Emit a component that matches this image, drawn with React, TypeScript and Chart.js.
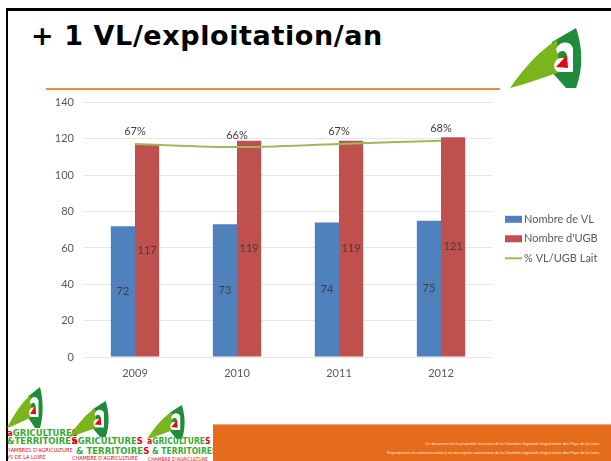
import React, { useEffect, useRef } from "react";
import { Chart, registerables } from "chart.js";

Chart.register(...registerables);

const years = ["2009", "2010", "2011", "2012"];
const nombreVL = [72, 73, 74, 75];
const nombreUGB = [117, 119, 119, 121];
const pctVLUGB = [67, 66, 67, 68];
const seriesNames = ["Nombre de VL", "Nombre d'UGB", "% VL/UGB Lait"];
const yMin = 0;
const yMax = 140;
const yStep = 20;

const FONT = "Lato, 'Open Sans', sans-serif";
const BLUE = "#4F81BD";
const RED = "#C0504D";
const GREEN = "#9BBB59";

const valueLabels = {
  id: "valueLabels",
  afterDatasetsDraw(chart: any) {
    const ctx = chart.ctx;
    ctx.save();
    ctx.font = `11px ${FONT}`;
    ctx.fillStyle = "#404040";
    ctx.textAlign = "center";
    ctx.textBaseline = "middle";
    chart.data.datasets.forEach((ds: any, i: number) => {
      const meta = chart.getDatasetMeta(i);
      meta.data.forEach((el: any, j: number) => {
        const v = ds.data[j];
        if (meta.type === "bar") {
          const p = el.getProps(["x", "y", "base"], true);
          ctx.fillText(String(v), p.x, (p.y + p.base) / 2);
        } else {
          ctx.fillText(v + "%", el.x, el.y - 12);
        }
      });
    });
    ctx.restore();
  },
};

const sideLegend = {
  id: "sideLegend",
  afterDraw(chart: any) {
    const { ctx, chartArea } = chart;
    const x0 = chartArea.right + 13;
    ctx.save();
    ctx.font = `11px ${FONT}`;
    ctx.textAlign = "left";
    ctx.textBaseline = "middle";
    chart.data.datasets.forEach((ds: any, i: number) => {
      const yc = chartArea.top + 116.7 + i * 19.5;
      if (ds.type === "line") {
        ctx.strokeStyle = ds.borderColor;
        ctx.lineWidth = 2;
        ctx.beginPath();
        ctx.moveTo(x0, yc);
        ctx.lineTo(x0 + 17, yc);
        ctx.stroke();
      } else {
        ctx.fillStyle = ds.backgroundColor;
        ctx.fillRect(x0, yc - 3.5, 17, 7);
      }
      ctx.fillStyle = "#595959";
      ctx.fillText(ds.label, x0 + 19, yc);
    });
    ctx.restore();
  },
};

function BarChart() {
  const ref = useRef<HTMLCanvasElement>(null);
  useEffect(() => {
    if (!ref.current) return;
    const chart = new Chart(ref.current, {
      type: "bar",
      data: {
        labels: years,
        datasets: [
          { type: "bar", label: seriesNames[0], data: nombreVL, backgroundColor: BLUE, order: 1, yAxisID: "y" },
          { type: "bar", label: seriesNames[1], data: nombreUGB, backgroundColor: RED, order: 1, yAxisID: "y" },
          {
            type: "line",
            label: seriesNames[2],
            data: pctVLUGB,
            borderColor: GREEN,
            backgroundColor: GREEN,
            borderWidth: 2,
            pointRadius: 0,
            tension: 0.3,
            yAxisID: "y1",
            order: 0,
          },
        ] as any,
      },
      options: {
        responsive: false,
        animation: false,
        layout: { padding: { top: 0, right: 119, left: 0, bottom: 0 } },
        plugins: { legend: { display: false }, tooltip: { enabled: false } },
        datasets: { bar: { categoryPercentage: 0.474, barPercentage: 1 } },
        scales: {
          x: {
            grid: { display: false },
            border: { display: false },
            ticks: { color: "#595959", font: { family: FONT, size: 11 }, padding: 2 },
            afterFit: (s: any) => {
              s.height = 28;
            },
          },
          y: {
            min: yMin,
            max: yMax,
            ticks: { stepSize: yStep, color: "#595959", font: { family: FONT, size: 11 }, padding: 10 },
            grid: { color: "#e6e6e6", drawTicks: false },
            border: { display: false },
            afterFit: (s: any) => {
              s.width = 54;
            },
          },
          y1: { display: false, min: 0, max: 80, position: "right" },
        },
      } as any,
      plugins: [valueLabels, sideLegend],
    });
    return () => chart.destroy();
  }, []);
  return (
    <canvas
      ref={ref}
      width={581}
      height={299}
      style={{ position: "absolute", left: 30, top: 86, width: 581, height: 299 }}
    />
  );
}

function LogoMark({ x, y, w, h }: { x: number; y: number; w: number; h: number }) {
  return (
    <svg
      viewBox="0 0 72 60"
      preserveAspectRatio="none"
      style={{ position: "absolute", left: x, top: y, width: w, height: h }}
    >
      <path d="M42 14 L66 0 C73 20 73 42 66 60 L56 60 L40 42 Z" fill="#1E8C3A" />
      <path d="M0 60 C14 40 30 22 47 12 L50 44 C32 50 16 56 0 60 Z" fill="#7AB51D" />
      <path d="M46 22 C48 13 60 12 63 20 L63 44 L50 44 C42 44 42 30 52 30 L57 30 C58 22 50 21 48 26 Z" fill="#ffffff" />
      <path d="M46 39 L57 27 L58 40 Z" fill="#E30613" />
    </svg>
  );
}

function TextLine({
  x,
  cy,
  size,
  children,
  color,
  bold,
}: {
  x: number;
  cy: number;
  size: number;
  children: any;
  color?: string;
  bold?: boolean;
}) {
  return (
    <div
      style={{
        position: "absolute",
        left: x,
        top: cy - size / 2,
        fontSize: size,
        lineHeight: `${size}px`,
        whiteSpace: "nowrap",
        color: color || "#3AAA35",
        fontWeight: bold ? 700 : 400,
        fontFamily: "'Liberation Sans Narrow', 'DejaVu Sans Condensed', 'Liberation Sans', sans-serif",
      }}
    >
      {children}
    </div>
  );
}

const R = "#E30613";
const G = "#3AAA35";

function BrandText({ x, cy, size }: { x: number; cy: number; size: number }) {
  return (
    <TextLine x={x} cy={cy} size={size} bold color={G}>
      <span style={{ color: R }}>a</span>GRICULTURE<span style={{ color: R }}>S</span>
    </TextLine>
  );
}

function TerrText({ x, cy, size, sp }: { x: number; cy: number; size: number; sp?: boolean }) {
  return (
    <TextLine x={x} cy={cy} size={size} bold color={G}>
      {sp ? "& " : "&"}TERRITOIRE<span style={{ color: R }}>S</span>
    </TextLine>
  );
}

export default function App() {
  return (
    <div
      style={{
        position: "fixed",
        left: 0,
        top: 0,
        width: 611,
        height: 461,
        background: "#ffffff",
        overflow: "hidden",
      }}
    >
      <div style={{ position: "absolute", left: 6, top: 8, width: 2, height: 453, background: "#000" }} />
      <div style={{ position: "absolute", left: 6, top: 8, width: 605, height: 2.5, background: "#000" }} />
      <div
        style={{
          position: "absolute",
          left: 31,
          top: 22,
          fontFamily: "'DejaVu Sans', Verdana, sans-serif",
          fontWeight: 700,
          fontSize: 27,
          lineHeight: "27px",
          letterSpacing: 0.6,
          whiteSpace: "nowrap",
          color: "#000",
        }}
      >
        + 1 VL/exploitation/an
      </div>
      <div style={{ position: "absolute", left: 46, top: 88, width: 454, height: 2, background: "#F0893A" }} />
      <LogoMark x={510} y={28} w={72} h={60} />

      <BarChart />

      <LogoMark x={7} y={387} w={36} h={41} />
      <BrandText x={7} cy={433} size={9.5} />
      <TerrText x={7} cy={441} size={9.5} />
      <TextLine x={7} cy={450.5} size={5.5} color={R}>HAMBRES D'AGRICULTURE</TextLine>
      <TextLine x={7} cy={457.5} size={5.5} color={R}>YS DE LA LOIRE</TextLine>

      <LogoMark x={69} y={401} w={40} h={36} />
      <BrandText x={72} cy={441} size={9.5} />
      <TerrText x={76} cy={451} size={9.5} sp />
      <TextLine x={72} cy={459} size={5.5} color={R}>CHAMBRE D'AGRICULTURE</TextLine>

      <LogoMark x={147} y={405} w={38} h={34} />
      <BrandText x={147} cy={441} size={8.5} />
      <TerrText x={152} cy={451} size={8.5} sp />
      <TextLine x={148} cy={459} size={5} color={R}>CHAMBRE D'AGRICULTURE</TextLine>

      <div
        style={{
          position: "absolute",
          left: 213,
          top: 424,
          width: 398,
          height: 37,
          background: "#E46C1A",
          borderTop: "1px solid #F0A777",
        }}
      />
      <div
        style={{
          position: "absolute",
          right: 11,
          top: 442,
          fontSize: 4,
          lineHeight: "4px",
          color: "#FFE9DA",
          fontFamily: "'Liberation Sans', sans-serif",
          whiteSpace: "nowrap",
          textAlign: "right",
        }}
      >
        Ce document est la propriété exclusive de la Chambre régionale d'agriculture des Pays de la Loire.
      </div>
      <div
        style={{
          position: "absolute",
          right: 11,
          top: 451,
          fontSize: 4,
          lineHeight: "4px",
          color: "#FFE9DA",
          fontFamily: "'Liberation Sans', sans-serif",
          whiteSpace: "nowrap",
          textAlign: "right",
        }}
      >
        Reproduction et communication à un tiers après autorisation de la Chambre régionale d'agriculture des Pays de la Loire.
      </div>
    </div>
  );
}
